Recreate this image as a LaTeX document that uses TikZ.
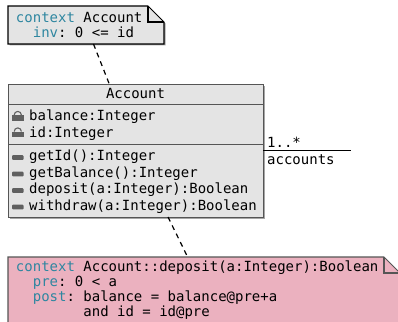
\documentclass[tikz,border=0pt]{standalone}
\usepackage{fontspec}
\setmonofont{DejaVu Sans Mono}
\usetikzlibrary{backgrounds}

\definecolor{notegray}{HTML}{E4E4E4}
\definecolor{notepink}{HTML}{EBB1BF}
\definecolor{keyword}{HTML}{2E86A0}
\definecolor{edge}{HTML}{555555}
\definecolor{icon}{HTML}{606060}

\newcommand{\kw}[1]{\textcolor{keyword}{#1}}

\tikzset{
    umltext/.style={inner sep=0pt, font=\ttfamily\fontsize{14}{15}\selectfont\frenchspacing},
    member/.style={umltext, anchor=base west},
    notetext/.style={umltext, anchor=north west, align=flush left, inner xsep=8pt, outer sep=0pt},
    noteline/.style={line width=1.05pt, line join=miter},
    lockicon/.pic={
        \fill[icon] (-5.7,-0.5) rectangle (5.7,5);
        \draw[icon, line width=1.1pt] (-3.6,-0.5) arc (180:360:3.6);
    },
    methodicon/.pic={
        \fill[icon, rounded corners=0.8pt] (-5.7,-2.3) rectangle (5.7,2.3);
    }
}

% outline of a note with its folded corner, behind the text
\newcommand{\foldnote}[3]{
    \begin{pgfonlayer}{background}
    \fill[gray!70] ([xshift=1.5pt, yshift=-1.5pt]#1.north west) -- ([xshift=-14.5pt, yshift=-1.5pt]#1.north east) -- ([xshift=1.5pt, yshift=-17.5pt]#1.north east) -- ([xshift=1.5pt, yshift=-1.5pt]#1.south east) -- ([xshift=1.5pt, yshift=-1.5pt]#1.south west) -- cycle;
    \fill[#2] (#1.north west) -- ([xshift=-16pt]#1.north east) -- ([yshift=-16pt]#1.north east) -- (#1.south east) -- (#1.south west) -- cycle;
    \draw[#3, noteline] (#1.north west) -- ([xshift=-16pt]#1.north east) -- ([yshift=-16pt]#1.north east) -- (#1.south east) -- (#1.south west) -- cycle;
    \draw[#3, noteline] ([xshift=-16pt]#1.north east) -- ([xshift=-16pt, yshift=-16pt]#1.north east) -- ([yshift=-16pt]#1.north east);
    \end{pgfonlayer}
}

\begin{document}
\begin{tikzpicture}[x=1pt, y=-1pt, line width=1.3pt]

    \clip (0,0) rectangle (398,321);

    % the notes
    \node[notetext, minimum width=155.5pt, minimum height=38pt, text width=140pt] (accountNote) at (8,6)
        {\kw{context} Account\\[-0.2pt]~~\kw{inv}: 0 <= id};
    \foldnote{accountNote}{notegray}{black}

    \node[notetext, minimum width=391pt, minimum height=67pt, text width=376pt] (depositNote) at (8,257)
        {\kw{context} Account::deposit(a:Integer):Boolean\\
         ~~\kw{pre}: 0 < a\\
         ~~\kw{post}: balance = balance@pre+a\\
         ~~~~~~~~and id = id@pre};
    \foldnote{depositNote}{notepink}{edge}

    % the class
    \fill[gray!70] (10,86) rectangle (265,218.5);
    \node[draw=edge, fill=notegray, anchor=north west, inner sep=0pt, outer sep=0pt, minimum width=255pt, minimum height=133pt] (accountClass) at (8,84) {};
    \draw[edge] (accountClass.west |- 0,104) -- (accountClass.east |- 0,104);
    \draw[edge] (accountClass.west |- 0,144) -- (accountClass.east |- 0,144);

    \node[umltext, anchor=base] (accountName) at (135.5,98) {Account};

    \node[member] (balanceAttr) at (29,120.5) {balance:Integer};
    \node[member] (idAttr) at (29,137) {id:Integer};
    \node[member] (getIdOp) at (29,160) {getId():Integer};
    \node[member] (getBalanceOp) at (29,177) {getBalance():Integer};
    \node[member] (depositOp) at (29,193.5) {deposit(a:Integer):Boolean};
    \node[member] (withdrawOp) at (29,210) {withdraw(a:Integer):Boolean};

    % the icons
    \foreach \y in {115.5,132} {
        \pic at (17.8,\y) {lockicon};
    }
    \foreach \y in {157.5,174,190.5,207} {
        \pic at (17.8,\y) {methodicon};
    }

    % the connectors
    \draw[black, line width=1.2pt, dash pattern=on 5pt off 4.3pt] (accountNote) -- (accountClass);
    \draw[black, line width=1.2pt, dash pattern=on 5pt off 4.3pt] (accountClass) -- (depositNote);

    \coordinate (accountsEnd) at (351,150.5);
    \draw[black, line width=1.1pt] (accountClass.east) -- (accountsEnd);
    \node[member] (accountsMult) at (267,147) {1..*};
    \node[member] (accountsRole) at (267,164.5) {accounts};

\end{tikzpicture}
\end{document}
